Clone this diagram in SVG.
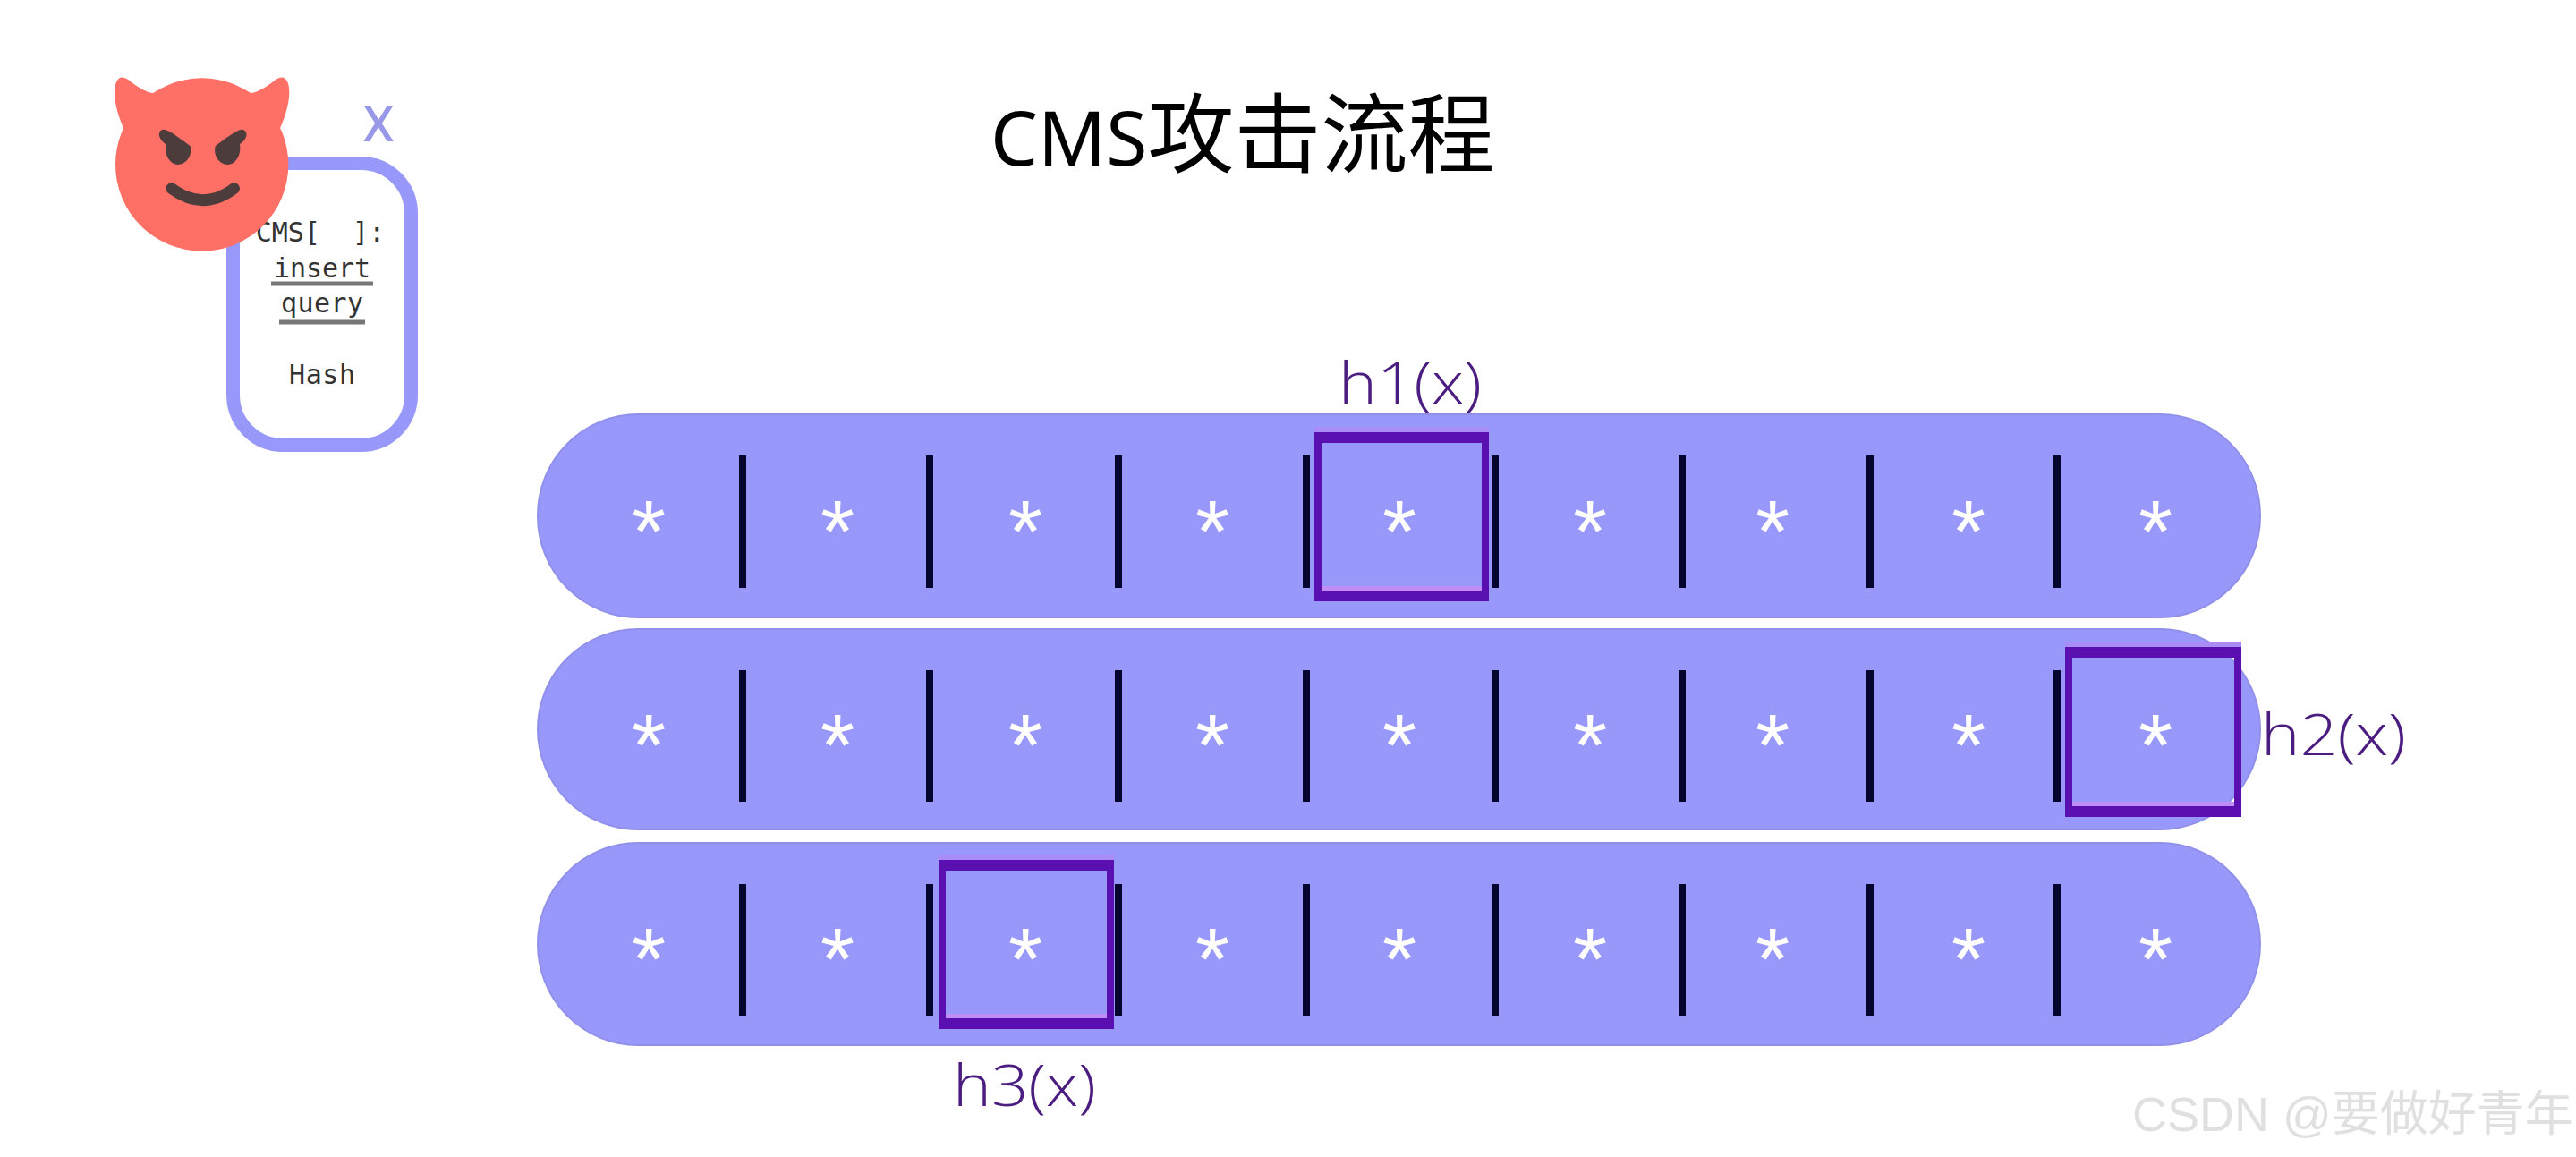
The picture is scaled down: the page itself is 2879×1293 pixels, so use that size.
<svg xmlns="http://www.w3.org/2000/svg" width="2879" height="1293" viewBox="0 0 2879 1293">
<style>
.bar{fill:#9898fb;stroke:#9090ea;stroke-width:2}
.div{stroke:#05052e;stroke-width:8}
.ast{font-family:"Liberation Sans",Arial,sans-serif;font-size:98px;fill:#fff;text-anchor:middle}
.box{fill:#5a10b0;fill-rule:evenodd}
.bandt{fill:#a98cf8}
.bandb{fill:#c08cf6}
.hl{font-family:"Open Sans","Liberation Sans",sans-serif;font-weight:300;font-size:64px;fill:#4b1d80}
.mono{font-family:"DejaVu Sans Mono","Liberation Mono",monospace;font-size:30px;fill:#333;text-anchor:middle}
.ul{stroke:#777;stroke-width:5}
</style>
<rect width="2879" height="1293" fill="#fff"/>
<text x="1107" y="185" font-family="'Noto Sans','Noto Sans CJK SC',sans-serif" fill="#000"><tspan font-size="84">CMS</tspan><tspan font-family="'Noto Sans CJK SC',sans-serif" font-size="97">攻击流程</tspan></text>
<g id="card">
<rect x="260.500" y="182.500" width="199" height="315" rx="56" fill="#fff" stroke="#9898fb" stroke-width="15"/>
<text x="423" y="158" font-family="'Open Sans','Liberation Sans',sans-serif" font-size="54" font-weight="600" fill="#9898e8" text-anchor="middle">X</text>
<text class="mono" x="358" y="270" xml:space="preserve">CMS[  ]:</text>
<text class="mono" x="360" y="310" textLength="108">insert</text>
<line class="ul" x1="303" y1="317" x2="417" y2="317"/>
<text class="mono" x="360" y="349" textLength="92">query</text>
<line class="ul" x1="312" y1="360" x2="408" y2="360"/>
<text class="mono" x="360" y="429" textLength="74">Hash</text>
</g>
<g id="devil" transform="translate(80,60) scale(.3333)">
<g fill="#fe6f66">
<circle cx="437" cy="372" r="290"/>
<path d="M175 250C150 195 135 130 150 95C162 70 182 80 200 95C230 118 260 135 295 135L300 250Z"/>
<path d="M699 250C724 195 739 130 724 95C712 70 692 80 674 95C644 118 614 135 579 135L574 250Z"/>
</g>
<g fill="#4d3c3c">
<path d="M296 262C306 242 335 262 398 310C408 352 372 380 345 370C318 358 312 325 316 304C302 294 288 277 296 262Z"/>
<path d="M584 262C574 242 545 262 482 310C472 352 508 380 535 370C562 358 568 325 564 304C578 294 592 277 584 262Z"/>
</g>
<path d="M335 452Q440 530 545 452" fill="none" stroke="#4d3c3c" stroke-width="38" stroke-linecap="round"/>
</g>
<g id="row1">
<rect class="bar" x="601" y="463" width="1925" height="227" rx="112" ry="113"/>
<g class="div"><line x1="830" y1="509" x2="830" y2="657"/><line x1="1039" y1="509" x2="1039" y2="657"/><line x1="1250" y1="509" x2="1250" y2="657"/><line x1="1460" y1="509" x2="1460" y2="657"/><line x1="1671" y1="509" x2="1671" y2="657"/><line x1="1880" y1="509" x2="1880" y2="657"/><line x1="2090" y1="509" x2="2090" y2="657"/><line x1="2299" y1="509" x2="2299" y2="657"/></g>
<g class="ast"><text x="725" y="628">*</text><text x="936" y="628">*</text><text x="1146" y="628">*</text><text x="1355" y="628">*</text><text x="1564" y="628">*</text><text x="1777" y="628">*</text><text x="1981" y="628">*</text><text x="2200" y="628">*</text><text x="2409" y="628">*</text></g>
</g>
<g id="row2">
<rect class="bar" x="601" y="703" width="1925" height="224" rx="112" ry="112"/>
<g class="div"><line x1="830" y1="749" x2="830" y2="896"/><line x1="1039" y1="749" x2="1039" y2="896"/><line x1="1250" y1="749" x2="1250" y2="896"/><line x1="1460" y1="749" x2="1460" y2="896"/><line x1="1671" y1="749" x2="1671" y2="896"/><line x1="1880" y1="749" x2="1880" y2="896"/><line x1="2090" y1="749" x2="2090" y2="896"/><line x1="2299" y1="749" x2="2299" y2="896"/></g>
<g class="ast"><text x="725" y="867">*</text><text x="936" y="867">*</text><text x="1146" y="867">*</text><text x="1355" y="867">*</text><text x="1564" y="867">*</text><text x="1777" y="867">*</text><text x="1981" y="867">*</text><text x="2200" y="867">*</text><text x="2409" y="867">*</text></g>
</g>
<g id="row3">
<rect class="bar" x="601" y="942" width="1925" height="226" rx="112" ry="113"/>
<g class="div"><line x1="830" y1="988" x2="830" y2="1135"/><line x1="1039" y1="988" x2="1039" y2="1135"/><line x1="1250" y1="988" x2="1250" y2="1135"/><line x1="1460" y1="988" x2="1460" y2="1135"/><line x1="1671" y1="988" x2="1671" y2="1135"/><line x1="1880" y1="988" x2="1880" y2="1135"/><line x1="2090" y1="988" x2="2090" y2="1135"/><line x1="2299" y1="988" x2="2299" y2="1135"/></g>
<g class="ast"><text x="725" y="1106">*</text><text x="936" y="1106">*</text><text x="1146" y="1106">*</text><text x="1355" y="1106">*</text><text x="1564" y="1106">*</text><text x="1777" y="1106">*</text><text x="1981" y="1106">*</text><text x="2200" y="1106">*</text><text x="2409" y="1106">*</text></g>
</g>
<g id="h1">
<rect class="bandt" x="1469" y="477" width="195" height="6"/>
<rect class="bandb" x="1477" y="655" width="179" height="5"/>
<path class="box" d="M1469 483H1664V672H1469ZM1477 495V660H1656V495Z"/>
<text class="hl" x="1496" y="451" textLength="160" lengthAdjust="spacingAndGlyphs">h1(x)</text>
</g>
<g id="h2">
<rect class="bandt" x="2308" y="717" width="197" height="6"/>
<rect class="bandb" x="2316" y="896" width="181" height="5"/>
<path class="box" d="M2308 723H2505V913H2308ZM2316 735V901H2497V735Z"/>
<text class="hl" x="2527" y="844" textLength="162" lengthAdjust="spacingAndGlyphs">h2(x)</text>
</g>
<g id="h3">
<rect class="bandt" x="1049" y="955" width="196" height="6"/>
<rect class="bandb" x="1057" y="1133" width="180" height="5"/>
<path class="box" d="M1049 961H1245V1150H1049ZM1057 973V1138H1237V973Z"/>
<text class="hl" x="1065" y="1236" textLength="160" lengthAdjust="spacingAndGlyphs">h3(x)</text>
</g>
<text id="watermark" x="2383" y="1264" font-family="'Liberation Sans','Noto Sans CJK SC',sans-serif" font-size="54" fill="#e0e0e0">CSDN @<tspan font-family="'Noto Sans CJK SC',sans-serif">要做好青年</tspan></text>
</svg>
